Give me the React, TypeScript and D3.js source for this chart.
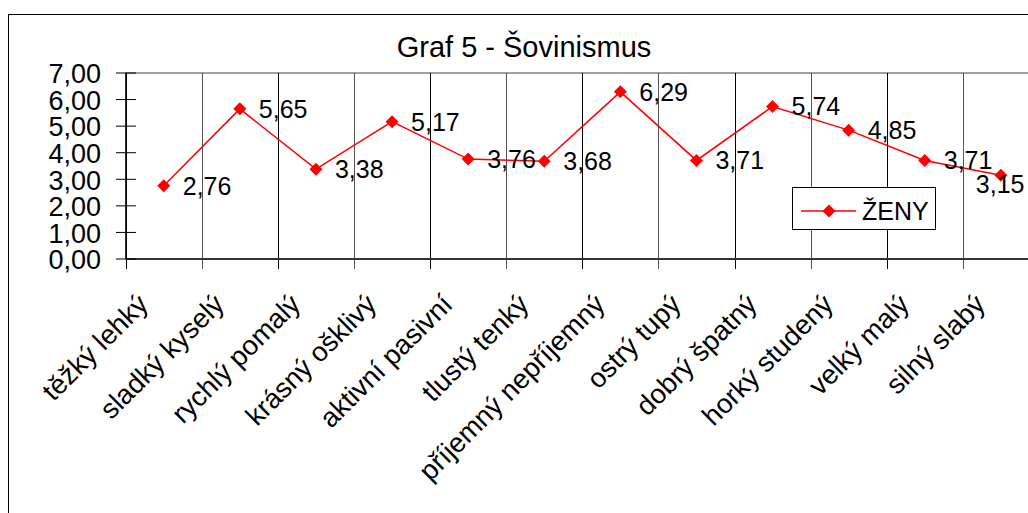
import React from "react";
import * as d3 from "d3";

// chart data
const categories = [
  "těžký lehký",
  "sladký kyselý",
  "rychlý pomalý",
  "krásný ošklivý",
  "aktivní pasivní",
  "tlustý tenký",
  "příjemný nepříjemný",
  "ostrý tupý",
  "dobrý špatný",
  "horký studený",
  "velký malý",
  "silný slabý",
];
const zenyValues = [2.76, 5.65, 3.38, 5.17, 3.76, 3.68, 6.29, 3.71, 5.74, 4.85, 3.71, 3.15];
const yTicks = [0, 1, 2, 3, 4, 5, 6, 7];
const seriesName = "ŽENY";
const title = "Graf 5 - Šovinismus";

const W = 1028;
const H = 513;
const plot = { left: 125.7, right: 1038.9, top: 73, bottom: 259 };
const font = "'Liberation Sans', Arial, sans-serif";
const red = "#ff0000";

const fmt = (v: number) => v.toFixed(2).replace(".", ",");

export default function App() {
  const x = d3.scaleBand<string>().domain(categories).range([plot.left, plot.right]);
  const y = d3.scaleLinear().domain([0, 7]).range([plot.bottom, plot.top]);
  const cx = (c: string) => (x(c) as number) + x.bandwidth() / 2;

  const line = d3
    .line<number>()
    .x((_, i) => cx(categories[i]))
    .y((d) => y(d));

  const diamond = (px: number, py: number, r = 6.5) =>
    `M${px},${py - r}L${px + r},${py}L${px},${py + r}L${px - r},${py}Z`;

  // boundaries between categories (gridlines + ticks)
  const bounds = categories.map((c) => x(c) as number).concat([plot.right]);

  return (
    <div style={{ position: "fixed", left: 0, top: 0 }}>
      <svg width={W} height={H} style={{ display: "block", background: "#fff" }} fontFamily={font}>
        {/* outer chart frame (runs past the picture) */}
        <rect x={8.5} y={14.5} width={1100} height={600} fill="#fff" stroke="#000" strokeWidth={1} />

        <text x={524} y={57} textAnchor="middle" fontSize={29}>
          {title}
        </text>

        {/* plot area top border */}
        <line x1={plot.left} x2={plot.right} y1={plot.top} y2={plot.top} stroke="#808080" strokeWidth={1.5} />

        {/* vertical gridlines + category ticks */}
        {bounds.map((b, i) => (
          <line
            key={"g" + i}
            x1={Math.round(b) + 0.5}
            x2={Math.round(b) + 0.5}
            y1={plot.top}
            y2={plot.bottom + 10}
            stroke={i % 2 === 0 ? "#000" : "#555"}
            strokeWidth={1}
          />
        ))}

        {/* x axis */}
        <line x1={plot.left} x2={plot.right} y1={plot.bottom} y2={plot.bottom} stroke="#333" strokeWidth={2} />

        {/* y axis and ticks */}
        <line x1={plot.left} x2={plot.left} y1={plot.top} y2={plot.bottom} stroke="#000" strokeWidth={1} />
        {yTicks.map((t) => (
          <g key={"y" + t}>
            <line x1={116} x2={136} y1={y(t)} y2={y(t)} stroke="#000" strokeWidth={1} />
            <text x={101} y={y(t)} dy="0.38em" textAnchor="end" fontSize={27}>
              {fmt(t)}
            </text>
          </g>
        ))}

        {/* category labels */}
        {categories.map((c) => (
          <text
            key={"c" + c}
            transform={`translate(${cx(c) - 14},${plot.bottom + 47}) rotate(-45)`}
            textAnchor="end"
            fontSize={27.5}
          >
            {c}
          </text>
        ))}

        {/* series */}
        <path d={line(zenyValues) || ""} fill="none" stroke={red} strokeWidth={1.5} />
        {zenyValues.map((v, i) => (
          <path key={"m" + i} d={diamond(cx(categories[i]), y(v))} fill={red} />
        ))}
        {zenyValues.map((v, i) => {
          const last = i === zenyValues.length - 1;
          return (
            <text
              key={"l" + i}
              x={cx(categories[i]) + (last ? -25 : 19)}
              y={y(v) + (last ? 9 : 0)}
              dy="0.36em"
              fontSize={25}
            >
              {fmt(v)}
            </text>
          );
        })}

        {/* legend */}
        <rect x={792.5} y={187.5} width={143} height={42} fill="#fff" stroke="#000" strokeWidth={1} />
        <line x1={801} x2={856} y1={211} y2={211} stroke={red} strokeWidth={1.5} />
        <path d={diamond(829, 211)} fill={red} />
        <text x={862} y={211} dy="0.36em" fontSize={25}>
          {seriesName}
        </text>
      </svg>
    </div>
  );
}
